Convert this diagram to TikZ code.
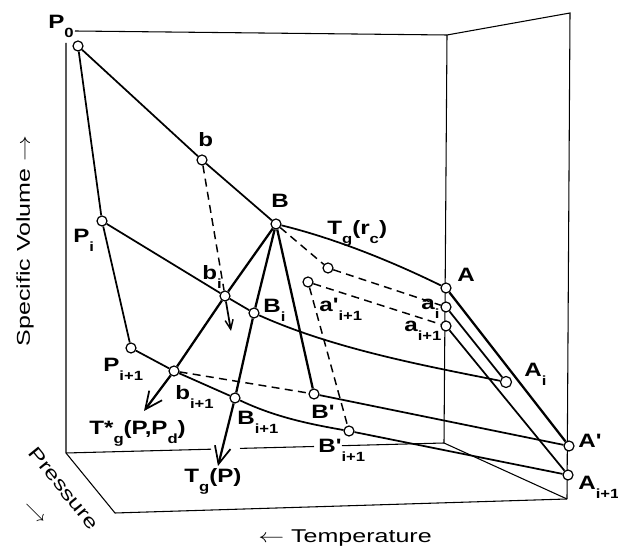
\documentclass[tikz,border=0pt]{standalone}
\usepackage{fontspec}
\setmainfont{Liberation Sans}
\usetikzlibrary{arrows.meta}
\newcommand\lsub[1]{\raisebox{-6.5pt}{\fontsize{10}{10}\selectfont #1}}
\newcommand\pr{\textquotesingle}
\begin{document}
\begin{tikzpicture}[x=0.75pt,y=-0.75pt,
  pt/.style={circle,draw,fill=white,line width=0.9pt,minimum size=7.5pt,inner sep=0pt},
  frame/.style={line width=0.8pt},
  curv/.style={line width=1.3pt},
  heavy/.style={line width=1.7pt},
  ray/.style={line width=1.7pt},
  dsh/.style={dash pattern=on 6pt off 4pt,line width=1.1pt},
  arr/.style={-{Straight Barb[length=13pt,width=12pt,line width=1.3pt]}},
  smallarr/.style={-{Straight Barb[length=7pt,width=6pt,line width=1.1pt]}},
  lab/.style={font=\bfseries\fontsize{14.5}{17}\selectfont,inner sep=0pt,anchor=base west,xscale=1.25},
  ax/.style={font=\fontsize{13.9}{17}\selectfont,inner sep=0pt}]
\useasboundingbox (0,0) rectangle (618,548);
% frame
\draw[frame] (75,31) -- (447,35) -- (570,13) -- (567,499);
\draw[frame] (447,35) -- (444,443) -- (567,499);
\draw[frame] (66,43) -- (66,453) -- (115,513) -- (567,499);
\draw[frame] (66,453) -- (211,449.2);
\draw[frame] (240,448.4) -- (314,446.5);
\draw[frame] (342,445.7) -- (444,443);
% points
\node[pt] (P0) at (78,46) {};
\node[pt] (b) at (202,160) {};
\node[pt] (B) at (276,224) {};
\node[pt] (Pi) at (102,221) {};
\node[pt] (bi) at (225,296) {};
\node[pt] (Bi) at (254,313) {};
\node[pt] (Pip) at (131,348) {};
\node[pt] (bip) at (174,371) {};
\node[pt] (Bip) at (235,398) {};
\node[pt] (Bp) at (314,394) {};
\node[pt] (Bpp) at (349,431) {};
\node[pt] (ta) at (328,268) {};
\node[pt] (apip) at (308,282) {};
\node[pt] (A) at (446,288) {};
\node[pt] (ai) at (446,307) {};
\node[pt] (aip) at (446,326) {};
\node[pt,minimum width=8.3pt] (Ai) at (506,382) {};
\node[pt] (Ap) at (569,446) {};
\node[pt] (Aip) at (568,475) {};
\coordinate (tsT) at (144,411);
\coordinate (tgT) at (218,466);
\coordinate (biT) at (231,331);
% curves
\draw[curv] (P0) -- (Pi) -- (Pip);
\draw[curv] (P0) -- (b) -- (B);
\draw[curv] (B) .. controls (333,238) and (389,260) .. (A);
\draw[curv] (Pi) -- (bi) -- (Bi) .. controls (334,349) and (426,366) .. (Ai);
\draw[curv] (Pip) -- (bip) -- (Bip) .. controls (275,417) and (309,424) .. (Bpp) -- (Aip);
\draw[curv] (Bp) -- (Ap);
\draw[heavy] (A) -- (Ap);
\draw[curv] (ai) -- (Ai);
\draw[curv] (aip) -- (Aip);
\draw[ray] (B) -- (bi) -- (bip);
\draw[ray,arr] (bip) -- (tsT);
\draw[ray] (B) -- (Bi) -- (Bip);
\draw[ray,arr] (Bip) -- (tgT);
\draw[ray] (B) -- (Bp);
\draw[dsh] (B) -- (ta) -- (ai);
\draw[dsh] (apip) -- (aip);
\draw[dsh] (apip) -- (Bpp);
\draw[dsh] (b) -- (bi);
\draw[curv,smallarr] (bi) -- (biT);
\draw[dsh] (bip) -- (Bp);
% labels
\node[lab] (lP0) at (48,29) {P\lsub{0}};
\node[lab] (lb) at (198,147) {b};
\node[lab] (lB) at (271,208) {B};
\node[lab] (lPi) at (73,243) {P\lsub{i}};
\node[lab] (lbi) at (202,280) {b\lsub{i}};
\node[lab] (lBi) at (263,313) {B\lsub{i}};
\node[lab] (lPip) at (103,372) {P\lsub{i+1}};
\node[lab] (lbip) at (175,400) {b\lsub{i+1}};
\node[lab] (lBip) at (237,425) {B\lsub{i+1}};
\node[lab] (lTs) at (89,435) {T*\lsub{g}(P,P\lsub{d})};
\node[lab] (lTg) at (184,483) {T\lsub{g}(P)};
\node[lab] (lBp) at (311,419) {B\pr};
\node[lab] (lBpp) at (318,453) {B\pr\lsub{i+1}};
\node[lab] (lTr) at (327,235) {T\lsub{g}(r\lsub{c})};
\node[lab] (lap) at (319,312) {a\pr\lsub{i+1}};
\node[lab] (lA) at (457,282) {A};
\node[lab] (lai) at (421,310) {a\lsub{i}};
\node[lab] (laip) at (404,332) {a\lsub{i+1}};
\node[lab] (lAi) at (524,377) {A\lsub{i}};
\node[lab] (lAp) at (578,448) {A\pr};
\node[lab] (lAip) at (578,490) {A\lsub{i+1}};
% axes
\node[ax,rotate=90,xscale=1.35] (sv) at (25,241) {Specific Volume $\rightarrow$};
\node[ax,rotate=-51,xscale=1.35] (pr) at (64,488) {Pressure};
\node[ax] (pa) at (35,513) {$\searrow$};
\node[ax,xscale=1.35,anchor=base] (tp) at (345,543) {$\leftarrow$ Temperature};
\end{tikzpicture}
\end{document}
